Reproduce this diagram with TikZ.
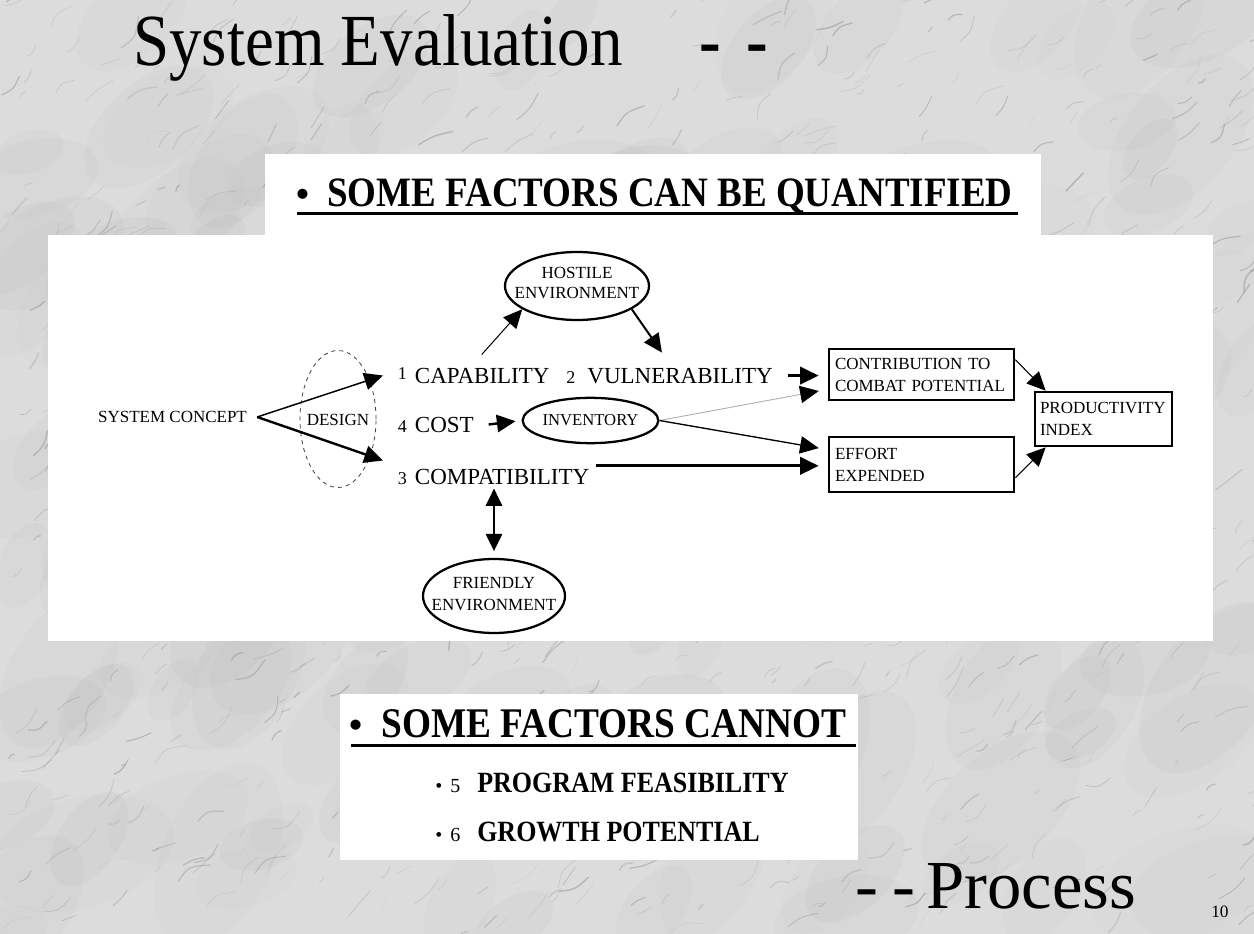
\documentclass[tikz,border=0pt]{standalone}
\usepackage{fontspec}
\setmainfont{Liberation Serif}
\usepackage{graphicx}
\usetikzlibrary{arrows.meta,shapes.geometric,calc}

\definecolor{marble}{RGB}{220,220,220}
\definecolor{vein}{RGB}{100,100,100}

\newcommand{\itemnum}[1]{{\fontsize{13.5}{15}\selectfont #1}}
\newcommand{\tall}[1]{\scalebox{1}[1.13]{#1}}

\tikzset{
  tip/.style={-{Triangle[length=14pt,width=13pt]}},
  greytip/.style={-{Triangle[length=14pt,width=13pt,color=black,fill=black]}},
  dtip/.style={{Triangle[length=13pt,width=12pt]}-{Triangle[length=13pt,width=12pt]}},
  lbl/.style={font=\fontsize{12.75}{15}\selectfont, inner sep=0pt},
  factor/.style={font=\fontsize{17.25}{20}\selectfont, inner xsep=11pt, inner ysep=3pt, anchor=base west},
  oval/.style={ellipse, draw, line width=1.7pt, inner sep=0pt},
  factorbox/.style={rectangle, draw, line width=2pt, inner ysep=0pt, align=left,
    font=\fontsize{12.75}{16.5}\selectfont},
  heading/.style={font=\bfseries\fontsize{27.75}{32}\selectfont, inner sep=0pt, anchor=base west},
  subitem/.style={font=\bfseries\fontsize{19.5}{22}\selectfont, inner sep=0pt, anchor=base west},
  subdot/.style={font=\fontsize{15}{18}\selectfont, inner sep=0pt, anchor=base west},
}

\begin{document}
\begin{tikzpicture}[x=0.75pt,y=-0.75pt]
\useasboundingbox (0,0) rectangle (1254,934);

% marble backdrop: faint clouds, then fine diagonal veins
\fill[marble] (0,0) rectangle (1254,934);
\pgfmathsetseed{11}
\foreach \k in {1,...,160}{
  \pgfmathsetmacro{\bx}{rnd*1254}
  \pgfmathsetmacro{\by}{rnd*934}
  \pgfmathsetmacro{\br}{25+rnd*45}
  \pgfmathsetmacro{\ba}{10+rnd*60}
  \pgfmathsetmacro{\bo}{0.015+rnd*0.025}
  \fill[vein, opacity=\bo, rotate around={\ba:(\bx,\by)}] (\bx,\by) ellipse [x radius=\br*1.4, y radius=\br*0.8];
}
\foreach \k in {1,...,900}{
  \pgfmathsetmacro{\vx}{rnd*1254}
  \pgfmathsetmacro{\vy}{rnd*934}
  \pgfmathsetmacro{\vl}{6+rnd*30}
  \pgfmathsetmacro{\va}{15+rnd*50}
  \pgfmathsetmacro{\vb}{rnd*60-30}
  \pgfmathsetmacro{\vo}{0.08+rnd*0.25}
  \pgfmathsetmacro{\vw}{0.2+rnd*0.9}
  \draw[vein, opacity=\vo, line width=\vw pt, line cap=round]
    (\vx,\vy) .. controls ++({0.5*\vl*cos(\va+\vb)},{-0.5*\vl*sin(\va+\vb)}) .. ++({\vl*cos(\va)},{-\vl*sin(\va)});
}

% white panels
\fill[white] (265,154) rectangle (1041,236);
\fill[white] (48,235) rectangle (1213,641);
\fill[white] (340,694) rectangle (858,860);

% slide title and footer
\node[font=\fontsize{48.75}{56}\selectfont, inner sep=0pt, anchor=base west] (title) at (133,66)
  {\tall{System Evaluation}\hspace{58pt}\tall{\textbf{-}}\hspace{19pt}\tall{\textbf{-}}};
\node[font=\fontsize{51.5}{60}\selectfont, inner sep=0pt, anchor=base west] (process) at (855,908)
  {-\hspace{11pt}-\hspace{8pt}Process};
\node[font=\fontsize{13}{15}\selectfont, inner sep=0pt, anchor=base west] (pageno) at (1211,917) {10};

% first heading
\node[heading] (hdrAdot) at (296,207) {\textbullet};
\node[heading] (hdrA) at (327,207) {\tall{SOME FACTORS CAN BE QUANTIFIED}};
\draw[line width=2pt] (297,213.5) -- (1018,213.5);

% diagram
\node[lbl, inner xsep=7.5pt] (sc) at (172.5,417) {SYSTEM CONCEPT};
\node[ellipse, draw=black!75, dashed, line width=0.6pt, minimum width=57pt, minimum height=102.75pt, inner sep=0pt] (design) at (338,419) {};
\node[lbl] (designlbl) at (338,420) {DESIGN};

\node[factor] (cap) at (383,383) {\itemnum{\raisebox{2.5pt}{1}}\hspace{6pt}CAPABILITY};
\node[factor] (vul) at (551.5,383) {\itemnum{2}\hspace{9pt}VULNERABILITY};
\node[factor] (cost) at (383,432) {\itemnum{4}\hspace{6pt}COST};
\node[factor] (compat) at (383,484) {\itemnum{3}\hspace{6pt}COMPATIBILITY};

\node[oval, minimum width=108pt, minimum height=51pt] (host) at (577,286) {};
\node[lbl, align=center] (hostlbl) at (577,283) {HOSTILE\\ENVIRONMENT};
\node[oval, minimum width=101pt, minimum height=34pt, font=\fontsize{12.5}{15}\selectfont] (inv) at (590.5,420.5) {INVENTORY};
\node[oval, minimum width=106.5pt, minimum height=55.5pt] (friend) at (494,596) {};
\node[lbl, align=center, font=\fontsize{12.75}{16.5}\selectfont] (friendlbl) at (494,594) {FRIENDLY\\ENVIRONMENT};

\node[factorbox, inner xsep=4.5pt, text width=129.75pt, minimum height=38.25pt] (contrib) at (921.5,374.5)
  {CONTRIBUTION TO\\COMBAT POTENTIAL};
\node[factorbox, inner xsep=4.5pt, text width=129.75pt, minimum height=41.25pt] (effort) at (921.5,464.5)
  {EFFORT\\EXPENDED};
\node[factorbox, inner xsep=3.75pt, text width=95.25pt, minimum height=40.5pt] (prod) at (1103.5,419)
  {PRODUCTIVITY\\INDEX};

% connectors
\draw[tip, line width=1.1pt] (sc.east) -- (cap.west);
\draw[tip, line width=1.8pt] (sc.east) -- ([yshift=3pt]compat.north west);
\draw[tip, line width=0.75pt, shorten <=9pt] (cap.north) -- (host.203);
\draw[tip, line width=1.5pt, shorten >=10pt] (host.337) -- (vul.north);
\draw[tip, line width=2.2pt, shorten >=6.75pt] (vul.east) -- (vul.east -| contrib.west);
\draw[tip, line width=1.8pt, shorten >=4.5pt] (cost.east) -- (inv.west);
\draw[greytip, draw=black!30, line width=0.7pt, shorten >=6.75pt] (inv.east) -- (contrib.189);
\draw[tip, line width=1pt, shorten >=6.75pt] (inv.east) -- (effort.171);
\coordinate (cpOut) at ([yshift=8pt]compat.east);
\draw[tip, line width=2.4pt, shorten <=-6pt, shorten >=6.75pt] (cpOut) -- (cpOut -| effort.west);
\draw[dtip, line width=2.2pt, shorten >=5pt] (compat.south -| friend.north) -- (friend.north);
\draw[tip, line width=0.8pt] (contrib.9) -- ([xshift=9pt]prod.north west);
\draw[tip, line width=0.8pt] (effort.352) -- ([xshift=9pt]prod.south west);

% second heading
\node[heading, font=\bfseries\fontsize{28}{32}\selectfont] (hdrBdot) at (349,737) {\textbullet};
\node[heading, font=\bfseries\fontsize{28}{32}\selectfont] (hdrB) at (381,737) {\tall{SOME FACTORS CANNOT}};
\draw[line width=2pt] (351,745.5) -- (856,745.5);

\node[subdot] (itemAdot) at (435,792) {\textbullet\hspace{6pt}5};
\node[subitem] (itemA) at (477,792) {\tall{PROGRAM FEASIBILITY}};
\node[subdot] (itemBdot) at (435,841) {\textbullet\hspace{6pt}6};
\node[subitem] (itemB) at (477,841) {\tall{GROWTH POTENTIAL}};
\end{tikzpicture}
\end{document}
